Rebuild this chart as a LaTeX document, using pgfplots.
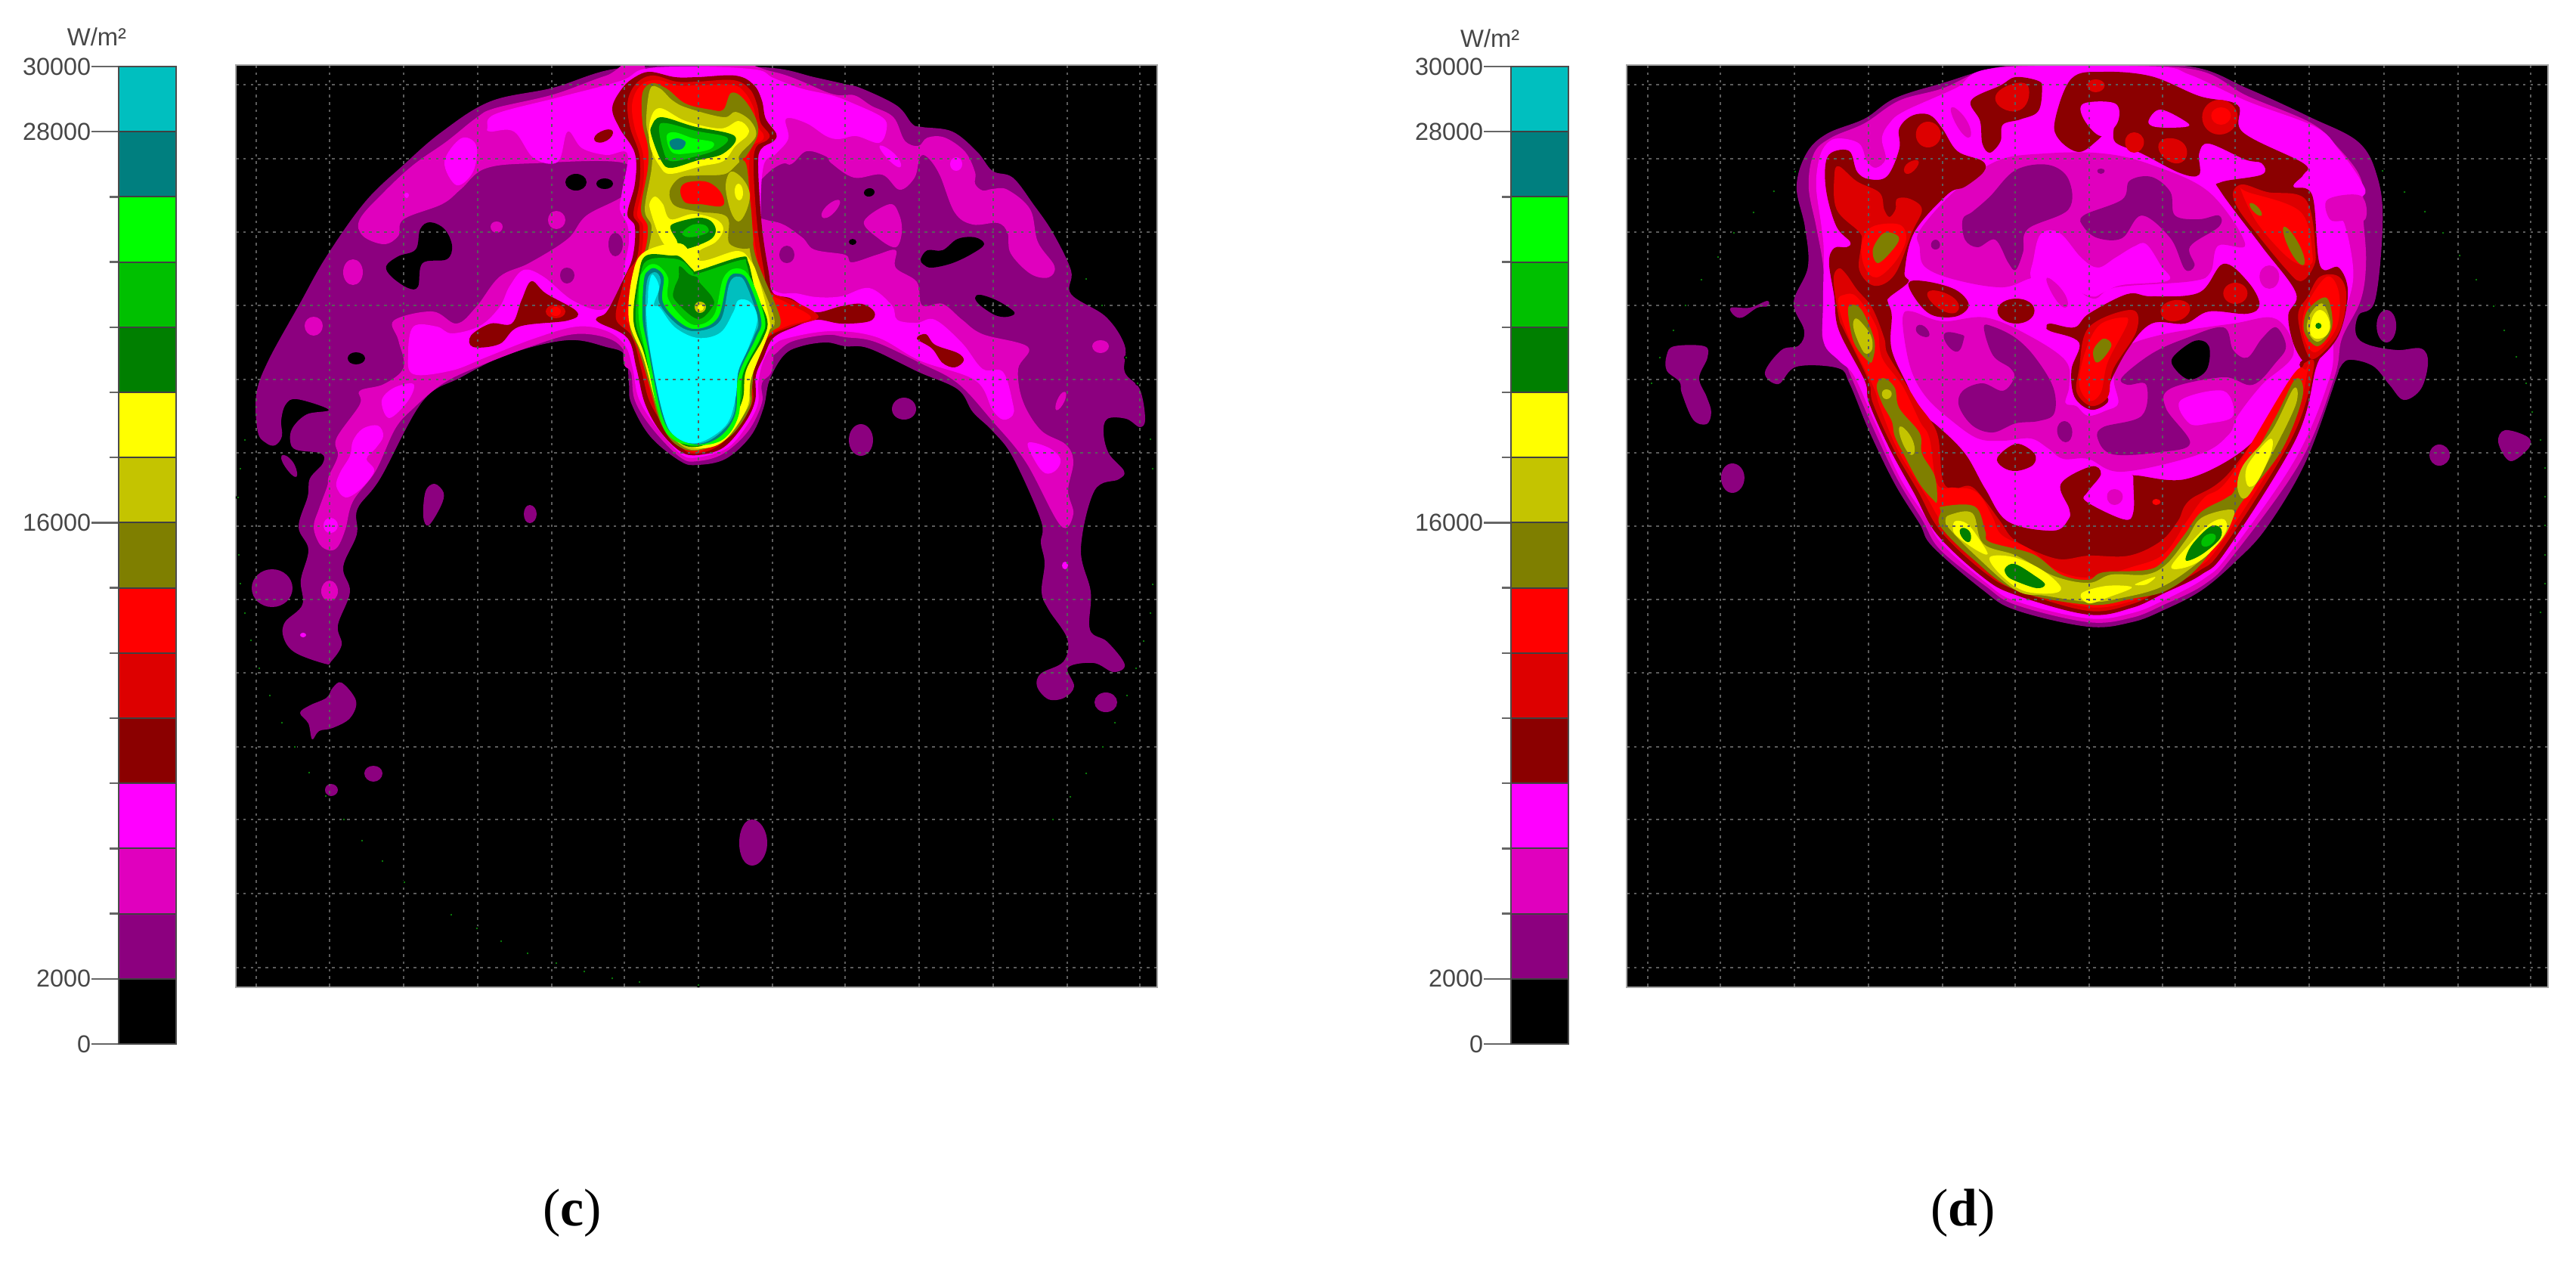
\documentclass[border=0pt]{standalone}
\usepackage{pgfplots}
\usepackage{fontspec}
\setmainfont{Liberation Sans}
\newfontfamily\capfont{Liberation Serif}
\pgfplotsset{compat=1.18}
\definecolor{Pa}{HTML}{8C007F}
\definecolor{Pb}{HTML}{E000BE}
\definecolor{Pc}{HTML}{FF00FF}
\definecolor{Ra}{HTML}{8B0000}
\definecolor{Rb}{HTML}{DD0000}
\definecolor{Rc}{HTML}{FF0000}
\definecolor{Oa}{HTML}{7F7F00}
\definecolor{Ob}{HTML}{C4C400}
\definecolor{Ya}{HTML}{FFFF00}
\definecolor{Ga}{HTML}{007F00}
\definecolor{Gb}{HTML}{00C000}
\definecolor{Gc}{HTML}{00FF00}
\definecolor{Ta}{HTML}{007F7F}
\definecolor{Tb}{HTML}{00BFBF}
\definecolor{Tc}{HTML}{00FFFF}
\definecolor{Speck}{HTML}{0A7A0A}
\newcommand\reg[2]{\addplot[forget plot,draw=none,fill=#1,mark=none,smooth cycle,tension=0.6] coordinates {#2};}
\newcommand\blob[2]{\addplot[forget plot,draw=none,fill=#1,mark=none,smooth cycle,tension=1] coordinates {#2};}
\newcommand\band[3]{\addplot[forget plot,draw=black!75,line width=.5pt,fill=#1,mark=none] coordinates {(0,#2)(1,#2)(1,#3)(0,#3)} --cycle;}
\pgfplotsset{
 heat/.style={scale only axis,axis on top,axis background/.style={fill=black},
   width=304.75pt,height=305pt,ymin=86,ymax=1306,y dir=reverse,
   ytick={112,210,307,404,502,599,696,793,890,988,1084,1182,1280},
   yticklabels={},xticklabels={},tick style={draw=none},
   grid=major,grid style={draw=white!36!black,line width=.5pt,dash pattern=on .9pt off 1.55pt},
   axis line style={draw=black!35,line width=.6pt}},
 cbar/.style={scale only axis,axis on top,width=19pt,height=323.25pt,xmin=0,xmax=1,ymin=0,ymax=30000,
   scaled y ticks=false,ytick pos=left,
   xtick=\empty,ytick={0,2000,16000,28000,30000},yticklabels={0,2000,16000,28000,30000},
   minor ytick={4000,6000,8000,10000,12000,14000,18000,20000,22000,24000,26000},
   tick align=outside,major tick length=9pt,minor tick length=3pt,
   tick style={draw=black!60,line width=.6pt},
   yticklabel style={font=\fontsize{8.1}{9}\selectfont,text=black!72,inner sep=0pt,xshift=0pt},
   axis line style={draw=black!70,line width=.5pt}},
}
\newcommand\cbands{
 \band{black}{0}{2000}\band{Pa}{2000}{4000}\band{Pb}{4000}{6000}\band{Pc}{6000}{8000}
 \band{Ra}{8000}{10000}\band{Rb}{10000}{12000}\band{Rc}{12000}{14000}\band{Oa}{14000}{16000}
 \band{Ob}{16000}{18000}\band{Ya}{18000}{20000}\band{Ga}{20000}{22000}\band{Gb}{22000}{24000}
 \band{Gc}{24000}{26000}\band{Ta}{26000}{28000}\band{Tb}{28000}{30000}
}
\begin{document}
\begin{tikzpicture}
\path[use as bounding box] (0,0) rectangle (852pt,418.75pt);
% ---------- colour bars
\begin{axis}[cbar,at={(39.25pt,73.5pt)},anchor=south west]\cbands\end{axis}
\begin{axis}[cbar,at={(499.75pt,73.5pt)},anchor=south west]\cbands\end{axis}
\node[font=\fontsize{8.2}{9}\selectfont,text=black!72] at (32pt,406.5pt) {W/m²};
\node[font=\fontsize{8.2}{9}\selectfont,text=black!72] at (492.8pt,406pt) {W/m²};
\node[font=\capfont\fontsize{17.5}{20}\selectfont] at (189.3pt,17.7pt) {(\textbf{c})};
\node[font=\capfont\fontsize{17.5}{20}\selectfont] at (649.3pt,17.7pt) {(\textbf{d})};
% ---------- panel c
\begin{axis}[heat,at={(78pt,92.25pt)},anchor=south west,xmin=312,xmax=1531,
  xtick={339,436,534,632,730,826,924,1022,1118,1216,1314,1412,1508}]
\reg{Pa}{(924,87)(814,91)(732,116)(649,134)(585,174)(534,218)(483,267)(432,339)(397,401)(355,477)(339,522)(341,571)(352,586)(364,589)(373,577)(372,556)(378,535)(393,528)(435,542)(406,548)(387,566)(384,584)(392,595)(425,600)(427,613)(410,633)(407,657)(395,697)(408,727)(398,767)(400,800)(377,823)(375,843)(390,863)(430,878)(438,875)(452,853)(447,827)(463,783)(454,750)(472,707)(473,673)(503,633)(559,531)(610,499)(674,468)(751,450)(802,459)(827,470)(832,507)(835,533)(860,577)(900,610)(923,615)(960,607)(993,577)(1010,540)(1018,503)(1037,470)(1060,458)(1093,453)(1118,458)(1150,461)(1215,492)(1267,515)(1287,545)(1313,570)(1340,605)(1377,688)(1377,718)(1382,745)(1378,783)(1387,806)(1412,845)(1407,875)(1377,891)(1372,908)(1387,925)(1408,923)(1421,908)(1413,883)(1447,877)(1473,889)(1488,879)(1465,849)(1442,833)(1443,783)(1430,726)(1448,649)(1480,634)(1487,623)(1467,600)(1460,573)(1465,554)(1490,554)(1508,565)(1515,554)(1508,515)(1488,492)(1488,457)(1463,419)(1417,389)(1417,358)(1393,308)(1367,270)(1340,235)(1313,226)(1293,201)(1260,174)(1220,168)(1207,164)(1187,140)(1140,117)(1117,111)(1077,102)(1023,90)}
\reg{Pa}{(575,640)(587,652)(583,670)(567,695)(560,683)(563,650)}
\blob{Pa}{(693,680)(701,668)(710,680)(701,692)}
\blob{Pa}{(333,778)(360,753)(387,778)(360,803)}
\reg{Pa}{(452,903)(471,927)(463,950)(440,963)(422,967)(413,978)(408,957)(397,943)(410,933)(432,923)(440,910)}
\blob{Pa}{(482,1023)(494,1013)(506,1023)(494,1034)}
\blob{Pa}{(430,1045)(438,1037)(447,1045)(438,1053)}
\blob{Pa}{(372,606)(383,606)(393,625)(386,628)}
\blob{Pa}{(978,1115)(995,1084)(1015,1115)(995,1145)}
\blob{Pa}{(1180,541)(1196,526)(1212,541)(1196,555)}
\blob{Pa}{(1123,582)(1139,561)(1155,582)(1139,603)}
\blob{Pa}{(1448,929)(1463,916)(1478,929)(1463,942)}
% P2 left, right
\reg{Pb}{(853,88)(802,100)(732,125)(655,143)(630,156)(591,187)(547,218)(508,254)(476,290)(480,312)(508,323)(527,312)(534,290)(585,270)(610,250)(642,223)(706,216)(827,216)(830,254)(776,285)(751,316)(700,348)(661,366)(630,406)(604,428)(572,412)(521,424)(527,450)(534,486)(508,508)(476,517)(476,535)(445,580)(447,603)(435,630)(433,643)(422,673)(415,697)(423,720)(436,728)(447,723)(457,700)(467,663)(497,623)(523,567)(547,540)(585,508)(630,486)(706,457)(760,442)(803,447)(825,463)(835,493)(850,493)(860,300)}
\reg{Pb}{(923,88)(1023,95)(1100,124)(1130,126)(1153,140)(1182,155)(1197,186)(1215,193)(1227,182)(1250,182)(1277,201)(1290,228)(1290,243)(1300,252)(1313,250)(1333,251)(1363,277)(1373,320)(1395,352)(1387,367)(1363,362)(1337,335)(1333,308)(1320,295)(1287,297)(1263,281)(1243,231)(1227,208)(1217,208)(1210,235)(1190,251)(1167,231)(1130,235)(1100,216)(1093,207)(1067,200)(1047,217)(1023,223)(923,300)}
\reg{Pb}{(1023,293)(1060,313)(1077,330)(1118,337)(1127,347)(1160,337)(1185,331)(1185,354)(1213,373)(1220,404)(1247,402)(1273,423)(1300,442)(1360,459)(1347,488)(1353,530)(1377,569)(1410,588)(1420,611)(1413,649)(1420,680)(1403,695)(1357,611)(1313,557)(1267,507)(1217,480)(1157,452)(1118,446)(1093,443)(1047,452)(1023,470)(1000,480)(960,300)}
\reg{Pb}{(825,463)(835,493)(840,530)(863,567)(900,605)(923,610)(957,600)(990,570)(1008,533)(1008,507)(1023,470)(1000,300)(923,200)(850,300)}
\blob{Pb}{(454,360)(467,343)(480,360)(467,377)}
\blob{Pb}{(403,431)(415,419)(427,431)(415,444)}
\blob{Pb}{(725,291)(736,279)(748,291)(736,303)}
\blob{Pb}{(649,300)(657,293)(665,300)(657,308)}
\blob{Pb}{(1088,280)(1105,265)(1110,272)(1094,288)}
\reg{Pb}{(1143,293)(1177,270)(1190,285)(1193,308)(1185,327)(1163,316)}
\blob{Pb}{(1445,458)(1456,450)(1467,458)(1456,467)}
\blob{Pb}{(1397,534)(1406,519)(1410,526)(1400,542)}
\blob{Pb}{(425,782)(436,768)(447,782)(436,795)}
\blob{Pa}{(805,323)(814,308)(824,323)(814,339)}
\blob{Pa}{(741,364)(750,354)(760,364)(750,375)}
\blob{Pa}{(1031,337)(1041,325)(1051,337)(1041,348)}
% holes
\blob{black}{(748,241)(762,230)(776,241)(762,252)}
\blob{black}{(789,243)(800,236)(811,243)(800,250)}
\reg{black}{(569,294)(588,303)(598,325)(591,343)(559,348)(553,379)(540,381)(518,366)(511,352)(527,339)(550,330)(556,303)}
\blob{black}{(460,474)(471,466)(483,474)(471,482)}
\blob{black}{(1143,255)(1150,249)(1157,254)(1150,260)}
\blob{black}{(1123,320)(1128,316)(1133,320)(1128,324)}
\reg{black}{(1218,343)(1227,331)(1247,331)(1267,316)(1290,314)(1302,323)(1287,335)(1260,348)(1233,354)(1222,350)}
\reg{black}{(1290,394)(1297,390)(1320,398)(1342,413)(1333,419)(1317,417)(1297,404)}
% P3
\reg{Pc}{(645,169)(655,151)(738,129)(821,107)(853,91)(923,88)(1000,92)(1023,103)(1060,117)(1100,126)(1127,136)(1167,155)(1173,170)(1163,189)(1133,180)(1110,184)(1093,180)(1067,163)(1040,157)(1043,183)(1027,203)(1010,220)(1007,293)(1017,370)(1030,387)(1053,388)(1080,393)(1113,392)(1150,381)(1180,404)(1187,423)(1213,427)(1237,423)(1273,454)(1300,488)(1327,492)(1340,534)(1340,549)(1327,555)(1313,542)(1290,503)(1217,477)(1160,446)(1100,438)(1043,447)(1023,457)(1010,477)(1003,507)(1003,533)(990,560)(963,592)(923,605)(900,600)(867,563)(845,527)(837,487)(827,457)(803,438)(763,432)(706,448)(642,473)(598,490)(547,495)(540,468)(547,432)(578,432)(598,441)(635,431)(661,406)(674,379)(693,357)(719,366)(757,397)(795,410)(818,390)(827,347)(832,320)(830,297)(820,277)(823,253)(830,203)(802,205)(770,196)(751,174)(738,214)(706,209)(680,174)(649,174)}
\reg{Pc}{(610,183)(630,192)(626,227)(604,245)(588,214)}
\blob{Pc}{(535,258)(538,255)(541,258)(538,262)}
\reg{Pc}{(467,583)(480,567)(500,563)(507,577)(497,593)(485,607)(495,623)(477,647)(457,658)(445,643)(450,625)(463,603)}
\reg{Pc}{(547,508)(540,530)(515,553)(505,530)(521,513)}
\blob{Pc}{(428,695)(437,685)(447,695)(437,705)}
\blob{Pc}{(397,840)(401,837)(405,840)(401,843)}
\blob{Pc}{(1165,198)(1172,195)(1190,212)(1186,220)}
\blob{Pc}{(1257,217)(1265,208)(1273,217)(1265,226)}
\reg{Pc}{(1360,586)(1387,592)(1403,607)(1397,622)(1383,626)(1370,611)}
\blob{Pc}{(1405,748)(1409,743)(1413,748)(1409,753)}
% red
\reg{Ra}{(703,372)(722,388)(763,412)(751,424)(687,432)(661,455)(626,459)(623,444)(649,428)(677,428)(690,397)}
\blob{Rb}{(722,412)(735,403)(748,412)(735,421)}
\blob{Rc}{(728,412)(735,406)(742,412)(735,418)}
\blob{Ra}{(786,183)(800,172)(811,176)(798,188)}
\reg{Ra}{(1213,448)(1225,442)(1237,456)(1267,467)(1275,477)(1263,486)(1247,480)(1233,461)}
\reg{Ra}{(860,95)(893,102)(923,102)(973,100)(997,112)(1008,133)(1013,157)(1027,177)(1023,187)(1007,197)(1003,220)(1008,300)(1017,360)(1023,388)(1047,395)(1077,413)(1113,405)(1140,402)(1157,413)(1150,425)(1113,428)(1080,423)(1050,433)(1023,447)(1010,473)(1000,497)(999,530)(985,560)(957,592)(923,602)(900,597)(873,570)(853,533)(842,487)(830,447)(793,427)(790,420)(803,412)(823,373)(837,340)(840,300)(830,283)(840,243)(840,203)(820,170)(810,143)(823,117)(840,102)}
\reg{Rb}{(866,100)(895,108)(923,108)(970,106)(992,118)(1002,140)(1006,162)(1018,178)(1014,186)(1000,195)(997,225)(1002,300)(1011,360)(1017,385)(1050,398)(1083,419)(1050,431)(1018,445)(1004,470)(994,497)(996,530)(980,558)(953,588)(923,600)(904,594)(880,565)(859,530)(848,487)(836,445)(815,422)(822,385)(830,360)(843,340)(846,300)(838,283)(846,243)(846,205)(834,170)(830,140)(835,120)(848,105)}
\reg{Rc}{(872,106)(895,113)(923,113)(968,112)(985,122)(997,143)(1001,165)(1010,178)(1008,186)(994,195)(991,225)(996,300)(1005,360)(1012,385)(1040,400)(1073,420)(1042,431)(1016,445)(999,472)(989,497)(993,530)(975,556)(950,583)(923,598)(906,591)(884,563)(864,530)(854,487)(842,445)(828,423)(828,410)(838,375)(848,340)(851,300)(843,283)(851,243)(851,205)(840,170)(836,142)(841,122)(853,109)}
% olive column
\reg{Oa}{(850,123)(863,110)(883,118)(907,137)(940,145)(957,145)(967,123)(983,130)(1000,157)(1002,180)(987,207)(983,213)(990,263)(995,297)(1000,340)(1032,420)(1023,437)(1017,443)(1000,473)(995,513)(992,540)(966,577)(923,596)(893,587)(873,557)(860,513)(845,463)(833,430)(838,367)(853,333)(857,300)(848,277)(857,223)(857,193)(850,163)}
\reg{Ob}{(860,118)(873,117)(890,133)(910,143)(957,155)(973,148)(993,160)(1000,180)(980,203)(978,215)(985,262)(990,300)(995,345)(1024,420)(1015,440)(995,475)(992,513)(990,538)(963,573)(923,595)(895,584)(876,555)(863,513)(848,463)(836,430)(841,367)(856,335)(862,300)(853,277)(862,223)(862,193)(855,163)}
\reg{Oa}{(900,235)(925,232)(960,230)(985,213)(992,262)(995,297)(994,327)(965,322)(962,287)(925,280)(893,272)(886,253)}
\reg{Rc}{(900,253)(907,242)(933,240)(950,250)(958,265)(953,273)(927,270)(907,268)}
\reg{Ob}{(967,227)(983,237)(992,257)(987,280)(977,293)(967,280)(960,247)}
\blob{Ya}{(972,254)(977,243)(983,254)(978,265)}
\reg{Ya}{(860,160)(873,143)(907,160)(953,170)(977,160)(990,170)(988,180)(973,193)(957,213)(927,220)(887,230)(873,220)(860,193)}
\reg{Ga}{(862,167)(875,155)(917,167)(972,180)(957,203)(923,212)(888,222)(875,213)(862,180)}
\reg{Gb}{(872,168)(882,163)(920,173)(962,182)(950,197)(920,207)(887,213)(877,197)}
\reg{Gc}{(882,180)(893,175)(917,183)(943,188)(940,197)(917,202)(890,202)}
\reg{Ta}{(886,187)(897,183)(907,188)(902,197)(890,197)}
\reg{Ya}{(860,267)(867,260)(877,270)(887,290)(917,283)(947,290)(957,303)(947,320)(925,332)(925,345)(906,346)(893,335)(880,325)(870,307)(860,277)}
\reg{Ga}{(887,302)(893,295)(923,288)(940,292)(947,305)(938,318)(903,330)(895,317)}
\reg{Gb}{(903,307)(917,297)(933,298)(937,307)(920,313)(907,313)}
\reg{Ya}{(853,333)(900,322)(925,345)(975,332)(993,345)(1003,367)(1018,423)(1016,443)(994,500)(988,540)(958,583)(923,593)(890,579)(870,540)(851,473)(832,423)(837,363)}
\reg{Ga}{(855,338)(887,338)(900,340)(917,357)(923,358)(980,340)(990,347)(1000,387)(1015,423)(1010,447)(987,490)(982,530)(960,570)(923,591)(893,580)(871,533)(852,467)(838,423)(845,363)}
\reg{Gb}{(848,360)(860,343)(890,342)(905,347)(917,360)(923,362)(980,344)(988,350)(997,388)(1012,423)(1007,447)(984,490)(980,530)(958,569)(923,590)(895,578)(873,533)(854,467)(841,423)}
\reg{Ga}{(899,352)(912,363)(923,367)(925,373)(942,393)(943,405)(923,422)(893,397)(892,382)(898,367)}
\blob{Ob}{(919,406)(926,399)(934,406)(926,414)}
\blob{Ya}{(923,407)(927,403)(931,407)(927,411)}
\reg{Gc}{(850,360)(860,350)(872,352)(884,368)(884,395)(905,422)(923,430)(945,416)(957,368)(975,355)(993,368)(1012,423)(1005,449)(982,497)(977,550)(957,581)(923,589)(890,581)(872,550)(853,462)(845,420)(846,372)}
\reg{Ta}{(852,370)(858,358)(867,355)(878,367)(877,400)(900,427)(923,435)(950,420)(963,370)(977,362)(990,373)(1007,423)(1000,447)(977,497)(973,547)(953,577)(923,588)(893,577)(875,547)(857,460)(850,420)}
\reg{Tb}{(856,372)(866,360)(874,370)(872,400)(897,430)(923,438)(953,424)(965,375)(977,366)(987,376)(1003,423)(997,446)(975,497)(971,547)(950,575)(923,587)(896,575)(877,547)(859,460)(854,420)}
\reg{Tc}{(863,363)(872,380)(865,403)(873,407)(893,433)(923,447)(953,440)(970,413)(977,397)(993,400)(1002,423)(990,460)(977,490)(973,527)(960,563)(923,586)(893,577)(877,547)(860,463)(855,413)(857,400)(858,380)}
\addplot[forget plot,only marks,mark=*,mark size=.55pt,mark options={draw=none,fill=Speck}] coordinates {(324,582)(318,620)(315,658)(316,734)(318,772)(324,811)(332,847)(343,884)(357,920)(373,956)(390,988)(409,1022)(431,1053)(455,1084)(479,1112)(506,1139)(535,1167)(597,1210)(631,1228)(663,1245)(698,1261)(736,1274)(773,1285)(810,1294)(846,1299)(924,1303)(1522,581)(1525,620)(1525,773)(1522,811)(1513,848)(1503,884)(1491,920)(1475,956)(1459,988)(1437,1023)(1416,1054)(1393,1084)(1437,369)(1458,404)(1490,473)(1505,507)};
\end{axis}
% ---------- panel d
\begin{axis}[heat,at={(538pt,92.25pt)},anchor=south west,xmin=2152,xmax=3372,
  xtick={2180,2276,2374,2472,2570,2666,2764,2862,2958,3056,3155,3253,3349}]
\reg{Pa}{(2764,87)(2655,87)(2570,110)(2507,130)(2467,157)(2417,177)(2390,203)(2377,247)(2388,300)(2392,353)(2373,400)(2387,437)(2380,457)(2357,463)(2335,493)(2353,508)(2377,485)(2432,487)(2447,507)(2473,570)(2507,640)(2540,693)(2557,723)(2623,780)(2667,807)(2763,829)(2821,823)(2863,807)(2913,781)(2959,742)(3000,697)(3051,611)(3092,499)(3095,489)(3108,476)(3140,484)(3162,509)(3181,529)(3204,514)(3213,479)(3204,461)(3172,463)(3134,456)(3118,443)(3121,417)(3143,397)(3153,295)(3146,234)(3121,188)(3057,155)(2974,117)(2898,88)}
\reg{Pa}{(2205,470)(2215,458)(2255,458)(2259,473)(2248,500)(2258,525)(2264,545)(2258,561)(2240,555)(2225,520)(2222,505)(2205,490)}
\reg{Pa}{(2290,407)(2315,407)(2338,398)(2339,405)(2325,407)(2305,420)(2294,417)}
\blob{Pa}{(2277,632)(2292,613)(2308,632)(2292,652)}
\blob{Pa}{(3215,602)(3228,588)(3242,602)(3228,616)}
\reg{Pa}{(3306,585)(3315,569)(3345,578)(3347,592)(3322,610)}
\blob{Pa}{(3145,431)(3158,410)(3171,431)(3158,453)}
\reg{Pb}{(2764,87)(2640,90)(2570,117)(2513,133)(2467,163)(2423,182)(2400,203)(2393,247)(2403,300)(2412,350)(2415,400)(2412,450)(2440,480)(2450,500)(2477,563)(2510,633)(2543,687)(2567,727)(2627,775)(2667,800)(2763,823)(2821,817)(2863,800)(2917,773)(2955,735)(3044,611)(3089,499)(3099,448)(3124,397)(3131,346)(3127,285)(3124,236)(3092,193)(3057,162)(2974,127)(2904,92)}
\reg{Pc}{(2640,90)(2587,117)(2520,147)(2500,163)(2490,183)(2495,210)(2482,222)(2470,213)(2460,190)(2433,183)(2417,190)(2407,210)(2403,247)(2410,300)(2413,333)(2412,400)(2413,453)(2433,477)(2453,497)(2480,557)(2513,630)(2547,683)(2570,720)(2627,770)(2667,795)(2763,818)(2821,811)(2863,794)(2917,765)(2951,731)(3038,606)(3083,499)(3089,448)(3108,397)(3114,356)(3102,295)(3083,270)(3127,259)(3124,239)(3095,198)(3064,168)(2974,134)(2898,99)(2847,88)}
\reg{Pb}{(3080,264)(3124,259)(3130,290)(3102,292)(3083,290)}
\blob{Pb}{(2582,150)(2590,145)(2607,170)(2600,180)}
\blob{Pb}{(2990,366)(3003,351)(3016,366)(3003,382)}
\reg{Pb}{(2540,305)(2585,254)(2642,213)(2706,203)(2783,203)(2847,218)(2923,254)(2971,323)(2935,325)(2925,360)(2900,372)(2800,380)(2770,395)(2735,375)(2693,367)(2650,380)(2587,370)(2547,353)(2540,327)}
\reg{Pa}{(2597,290)(2610,280)(2633,260)(2667,225)(2710,218)(2737,237)(2737,277)(2683,303)(2677,333)(2667,357)(2657,347)(2640,317)(2617,327)(2600,317)}
\reg{Pa}{(2757,285)(2808,264)(2818,239)(2847,234)(2872,254)(2878,285)(2910,290)(2936,285)(2936,300)(2898,326)(2904,351)(2891,356)(2872,315)(2834,285)(2808,315)(2776,315)(2757,300)}
\blob{Pa}{(2555,324)(2561,317)(2567,324)(2561,330)}
\blob{Pa}{(2775,226)(2780,223)(2785,226)(2780,230)}
\reg{Pc}{(2690,346)(2700,310)(2725,308)(2754,341)(2776,354)(2799,341)(2824,326)(2840,323)(2859,351)(2869,371)(2808,377)(2783,387)(2767,392)(2725,377)(2700,382)(2687,366)}
\blob{Pb}{(2709,375)(2716,371)(2735,395)(2728,405)}
\reg{Pb}{(2518,417)(2530,412)(2570,425)(2627,420)(2683,443)(2733,477)(2738,510)(2733,533)(2747,537)(2763,550)(2787,543)(2803,533)(2797,500)(2808,463)(2859,443)(2955,428)(3012,422)(3035,468)(2993,509)(2961,550)(2949,575)(2910,601)(2808,624)(2763,607)(2730,607)(2710,593)(2687,580)(2650,583)(2617,580)(2583,557)(2550,527)(2530,493)(2520,450)}
\reg{Pc}{(2885,530)(2942,517)(2955,550)(2923,560)(2897,560)}
\reg{Pa}{(2625,433)(2637,432)(2667,447)(2693,473)(2717,513)(2718,547)(2697,557)(2667,560)(2637,572)(2610,563)(2592,537)(2597,517)(2623,507)(2650,517)(2665,500)(2660,487)(2637,470)}
\reg{Pa}{(2808,499)(2847,468)(2891,448)(2942,433)(2955,463)(2974,473)(2993,448)(3012,433)(3025,458)(3012,479)(2981,509)(2942,499)(2872,514)(2866,540)(2898,586)(2859,598)(2796,601)(2776,581)(2783,565)(2834,550)(2840,509)(2815,509)}
\reg{black}{(2904,451)(2923,458)(2920,489)(2898,502)(2879,489)(2875,473)}
\blob{Pa}{(2535,436)(2543,430)(2553,442)(2544,445)}
\blob{Pa}{(2572,443)(2593,442)(2598,450)(2587,465)}
\blob{Pa}{(2722,570)(2732,557)(2742,571)(2733,585)}
\blob{Pb}{(2788,657)(2798,647)(2809,657)(2798,668)}
% dark red
\reg{Ra}{(2608,133)(2647,113)(2667,102)(2697,107)(2702,117)(2697,147)(2673,158)(2650,165)(2647,187)(2633,202)(2623,190)(2620,160)}
\reg{Ra}{(2741,104)(2783,95)(2847,101)(2910,127)(2961,139)(2968,175)(3048,216)(3048,231)(3035,247)(3060,259)(3070,351)(3095,354)(3107,387)(3095,443)(3064,479)(3050,480)(3035,455)(3028,417)(3038,387)(2993,326)(2939,254)(2939,241)(2993,231)(2993,216)(2971,211)(2923,190)(2910,203)(2910,231)(2885,229)(2834,203)(2799,188)(2796,165)(2776,185)(2751,201)(2725,185)(2719,160)}
\reg{Pc}{(2757,137)(2799,137)(2802,162)(2780,180)(2757,157)}
\reg{Pc}{(2843,160)(2859,145)(2894,162)(2891,168)(2853,168)}
\reg{Ra}{(2415,220)(2417,257)(2430,300)(2448,320)(2443,327)(2427,328)(2420,347)(2427,393)(2433,437)(2467,503)(2473,533)(2500,593)(2533,653)(2563,707)(2623,763)(2667,787)(2763,813)(2821,804)(2863,785)(2913,760)(2947,727)(3038,581)(3064,489)(3070,470)(3044,479)(3044,499)(3012,550)(2961,601)(2891,634)(2827,629)(2823,633)(2823,677)(2810,687)(2760,663)(2763,650)(2780,627)(2767,617)(2727,640)(2738,673)(2737,687)(2717,702)(2657,690)(2627,647)(2600,600)(2563,563)(2533,540)(2527,517)(2503,463)(2503,417)(2498,400)(2500,393)(2525,373)(2520,360)(2533,307)(2577,257)(2600,247)(2625,227)(2623,213)(2590,200)(2570,170)(2553,152)(2530,153)(2513,170)(2513,197)(2497,233)(2473,237)(2457,227)(2447,200)(2423,202)}
\reg{Ra}{(2525,375)(2547,372)(2587,383)(2605,403)(2590,418)(2560,418)(2540,403)}
\blob{Ra}{(2643,411)(2668,395)(2692,411)(2668,428)}
\reg{Ra}{(2643,605)(2668,587)(2692,600)(2690,615)(2668,623)(2650,618)}
\reg{Ra}{(2708,433)(2713,428)(2745,433)(2764,415)(2815,389)(2847,392)(2910,387)(2942,349)(2974,372)(2990,402)(2974,415)(2923,412)(2891,428)(2847,428)(2815,463)(2789,514)(2789,532)(2767,542)(2745,525)(2741,489)(2751,453)(2713,438)}
% R2 / R3 areas
\reg{Rb}{(2427,233)(2433,220)(2457,240)(2487,255)(2493,277)(2500,287)(2508,277)(2510,263)(2527,263)(2543,277)(2530,307)(2507,363)(2480,378)(2460,357)(2463,320)(2460,307)(2430,277)}
\reg{Rc}{(2463,323)(2477,300)(2513,297)(2522,317)(2507,347)(2483,367)(2467,353)}
\reg{Oa}{(2478,330)(2493,308)(2512,313)(2507,327)(2485,348)}
\blob{Rb}{(2535,178)(2551,161)(2568,178)(2551,195)}
\blob{Rb}{(2640,130)(2668,110)(2685,122)(2668,147)}
\blob{Rb}{(2762,113)(2773,105)(2785,113)(2773,122)}
\blob{Rb}{(2520,221)(2533,212)(2538,218)(2525,230)}
\blob{Rb}{(2550,390)(2572,387)(2592,405)(2575,413)}
\blob{Rb}{(2914,155)(2937,132)(2961,155)(2937,178)}
\blob{Rc}{(2926,153)(2939,142)(2952,153)(2939,165)}
\blob{Rb}{(2812,188)(2824,175)(2837,188)(2824,202)}
\blob{Rb}{(2856,195)(2875,183)(2894,200)(2878,216)}
\reg{Rb}{(2955,254)(2968,244)(3000,254)(3051,264)(3064,331)(3060,356)(3044,372)(3025,356)(2987,310)(2961,275)}
\reg{Rc}{(2965,250)(2974,254)(3044,280)(3060,336)(3054,351)(3028,341)(2987,295)}
\blob{Oa}{(2977,272)(2983,270)(2993,282)(2987,284)}
\blob{Oa}{(3022,310)(3030,305)(3049,340)(3040,346)}
\reg{Rb}{(3070,366)(3095,366)(3105,392)(3095,440)(3064,474)(3051,463)(3041,417)(3054,392)}
\reg{Rc}{(3079,366)(3095,387)(3092,433)(3064,466)(3048,443)(3051,407)}
\reg{Oa}{(3079,394)(3086,433)(3067,458)(3049,438)(3054,410)}
\reg{Ob}{(3074,402)(3084,433)(3067,452)(3053,436)(3058,414)}
\blob{Ya}{(3070,410)(3083,433)(3067,448)(3057,433)}
\blob{Ga}{(3064,431)(3068,427)(3072,431)(3068,435)}
\reg{Rb}{(2426,370)(2433,355)(2443,363)(2457,383)(2477,407)(2493,447)(2497,467)(2517,500)(2537,533)(2563,573)(2570,633)(2583,647)(2607,643)(2627,663)(2647,690)(2668,716)(2721,739)(2764,735)(2817,735)(2859,716)(2882,689)(2897,662)(2951,624)(3038,499)(3050,480)(3062,485)(3033,579)(2943,723)(2910,755)(2860,780)(2821,799)(2763,808)(2672,782)(2628,759)(2568,703)(2538,650)(2505,593)(2478,533)(2472,503)(2440,437)(2433,420)}
\reg{Rc}{(2432,400)(2440,390)(2457,393)(2483,433)(2490,473)(2517,510)(2540,557)(2553,580)(2563,640)(2585,645)(2607,647)(2622,658)(2637,685)(2649,708)(2687,727)(2721,754)(2764,764)(2821,750)(2863,733)(2894,689)(2917,658)(2951,631)(3032,499)(3051,489)(3055,485)(3028,577)(2938,720)(2905,752)(2858,776)(2821,795)(2763,803)(2675,778)(2634,755)(2575,698)(2548,655)(2512,597)(2488,540)(2478,510)(2445,443)}
\blob{Rb}{(2859,412)(2878,397)(2898,408)(2878,425)}
\blob{Rb}{(2942,388)(2958,374)(2974,388)(2958,402)}
\reg{Rb}{(2764,433)(2821,410)(2827,438)(2796,489)(2789,525)(2767,537)(2748,519)(2751,489)}
\reg{Rc}{(2808,420)(2815,428)(2789,479)(2780,519)(2764,530)(2751,507)(2760,463)(2778,430)}
\reg{Oa}{(2770,463)(2783,448)(2794,456)(2783,474)(2773,479)}
\blob{Rc}{(2848,664)(2853,660)(2859,664)(2853,668)}
% jaw olive / yellow
\reg{Oa}{(2445,410)(2453,403)(2465,413)(2480,450)(2478,475)(2472,478)(2453,453)}
\reg{Ob}{(2452,427)(2458,422)(2475,443)(2477,462)(2467,467)(2455,443)}
\reg{Oa}{(2483,510)(2492,500)(2507,513)(2513,540)(2540,573)(2543,600)(2560,630)(2563,663)(2557,660)(2540,640)(2520,603)(2507,577)(2503,557)(2490,533)}
\blob{Ob}{(2490,521)(2496,515)(2503,521)(2496,528)}
\blob{Ob}{(2513,572)(2520,567)(2533,590)(2526,600)}
\reg{Oa}{(2568,677)(2570,670)(2613,670)(2627,703)(2633,717)(2690,733)(2727,760)(2763,767)(2783,757)(2840,754)(2863,742)(2890,708)(2913,677)(2947,658)(2961,642)(3012,550)(3038,501)(3047,524)(3019,596)(2968,662)(2949,693)(2910,749)(2867,781)(2821,792)(2764,800)(2668,781)(2610,739)(2568,697)}
\reg{Ob}{(2574,689)(2580,681)(2610,679)(2624,719)(2668,735)(2718,762)(2764,771)(2794,760)(2840,760)(2867,746)(2894,712)(2913,685)(2951,674)(2955,685)(2932,723)(2867,773)(2802,792)(2764,796)(2706,788)(2668,781)(2614,735)(2580,700)}
\reg{Ob}{(3035,514)(3038,535)(3006,601)(2974,657)(2961,647)(2968,616)(3006,570)}
\reg{Ya}{(3003,581)(3006,596)(2987,637)(2974,642)(2974,616)}
\reg{Ya}{(2584,697)(2588,689)(2603,693)(2618,712)(2630,733)(2614,727)(2588,708)}
\reg{Ya}{(2633,737)(2664,737)(2702,754)(2727,777)(2714,785)(2676,781)(2645,758)}
\reg{Ya}{(2754,785)(2787,775)(2821,777)(2790,790)(2764,798)}
\reg{Ya}{(2825,773)(2852,763)(2840,773)}
\reg{Ya}{(2873,750)(2897,720)(2924,693)(2943,687)(2945,704)(2920,735)(2894,750)}
\reg{Ga}{(2892,739)(2901,720)(2924,697)(2938,698)(2938,712)(2917,731)(2898,741)}
\blob{Gb}{(2913,716)(2924,706)(2932,712)(2920,723)}
\reg{Ga}{(2653,752)(2666,746)(2693,762)(2706,773)(2695,778)(2668,769)(2656,762)}
\blob{Ga}{(2593,702)(2603,700)(2608,712)(2601,716)}
\addplot[forget plot,only marks,mark=*,mark size=.55pt,mark options={draw=none,fill=Speck}] coordinates {(2375,227)(2347,253)(2320,281)(2294,308)(2273,340)(2251,370)(2230,404)(2214,437)(2196,473)(2185,507)(3153,226)(3182,254)(3209,280)(3233,308)(3255,338)(3277,370)(3300,405)(3314,437)(3330,472)(3343,507)(3351,545)(3362,582)(3368,619)(3368,657)(3368,695)(3368,734)(3368,772)(3362,810)};
\end{axis}
\end{tikzpicture}
\end{document}
